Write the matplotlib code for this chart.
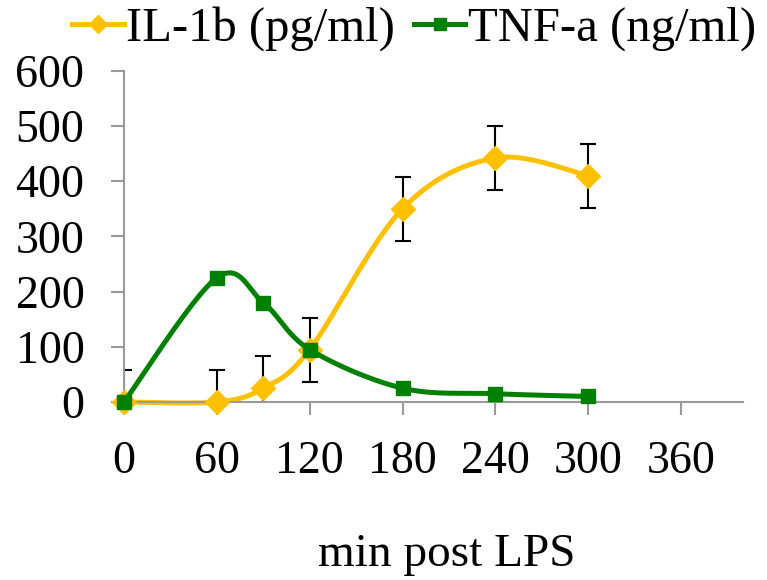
import numpy as np
import matplotlib
matplotlib.use("Agg")
import matplotlib.pyplot as plt

minutes = [0, 60, 90, 120, 180, 240, 300]
il1b = [0, 0, 25, 95, 350, 442, 410]
il1b_err = [58, 58, 58, 58, 58, 58, 58]
tnfa = [0, 225, 180, 95, 25, 15, 10]
x_ticks = [0, 60, 120, 180, 240, 300, 360]
y_ticks = [0, 100, 200, 300, 400, 500, 600]

plt.rcParams['font.family'] = ['Liberation Serif', 'DejaVu Serif']

def excel_smooth(xs, ys, n=40):
    P = np.column_stack([xs, ys]).astype(float)
    m = len(P)
    out = []
    for i in range(m - 1):
        p0 = P[i - 1] if i > 0 else P[i]
        p1 = P[i]
        p2 = P[i + 1]
        p3 = P[i + 2] if i + 2 < m else P[i + 1]
        c1 = p1 + (p2 - p0) / 6.0
        c2 = p2 - (p3 - p1) / 6.0
        t = np.linspace(0, 1, n)[:, None]
        seg = ((1 - t) ** 3) * p1 + 3 * ((1 - t) ** 2) * t * c1 + 3 * (1 - t) * t ** 2 * c2 + t ** 3 * p2
        out.append(seg if i == 0 else seg[1:])
    s = np.vstack(out)
    return s[:, 0], s[:, 1]

yellow = '#FFC000'
green = '#008000'

fig = plt.figure(figsize=(7.67, 5.8), dpi=100)
ax = fig.add_axes([0.1617, 0.3069, 0.9687 - 0.1617, 0.878 - 0.3069])

ax.errorbar(minutes, il1b, yerr=il1b_err, fmt='none', ecolor='black',
            elinewidth=1.5, capsize=6, capthick=1.5, zorder=1)

sx, sy = excel_smooth(minutes, il1b)
ax.plot(sx, sy, color=yellow, lw=3.6, zorder=2, solid_capstyle='round', clip_on=False)
ax.plot(minutes, il1b, 'D', color=yellow, ms=12.5, zorder=3, clip_on=False)
sx, sy = excel_smooth(minutes, tnfa)
ax.plot(sx, sy, color=green, lw=3.6, zorder=4, solid_capstyle='round', clip_on=False)
ax.plot(minutes, tnfa, 's', color=green, ms=10, zorder=5, clip_on=False)

h1 = ax.plot([], [], color=yellow, lw=3.6, marker='D', ms=9, label='IL-1b (pg/ml)')[0]
h2 = ax.plot([], [], color=green, lw=3.6, marker='s', ms=8, label='TNF-a (ng/ml)')[0]

ax.set_xlim(0, 400)
ax.set_ylim(0, 600)
ax.set_xticks(x_ticks)
ax.set_yticks(y_ticks)
for sp in ['top', 'right']:
    ax.spines[sp].set_visible(False)
for sp in ['left', 'bottom']:
    ax.spines[sp].set_color('#9a9a9a')
    ax.spines[sp].set_linewidth(1.5)
ax.tick_params(axis='both', colors='#9a9a9a', length=9.5, width=1.5, labelsize=33,
               labelcolor='black', direction='out')
ax.tick_params(axis='y', pad=19)
ax.tick_params(axis='x', pad=18)

fig.text(0.583, 0.043, 'min post LPS', ha='center', va='center', fontsize=34)

fig.legend(handles=[h1, h2], loc='center', bbox_to_anchor=(0.54, 0.95), ncol=2,
           frameon=False, fontsize=35, handlelength=1.05, handletextpad=0.05,
           columnspacing=0.4, borderaxespad=0)

fig.savefig('out.png', dpi=100)
